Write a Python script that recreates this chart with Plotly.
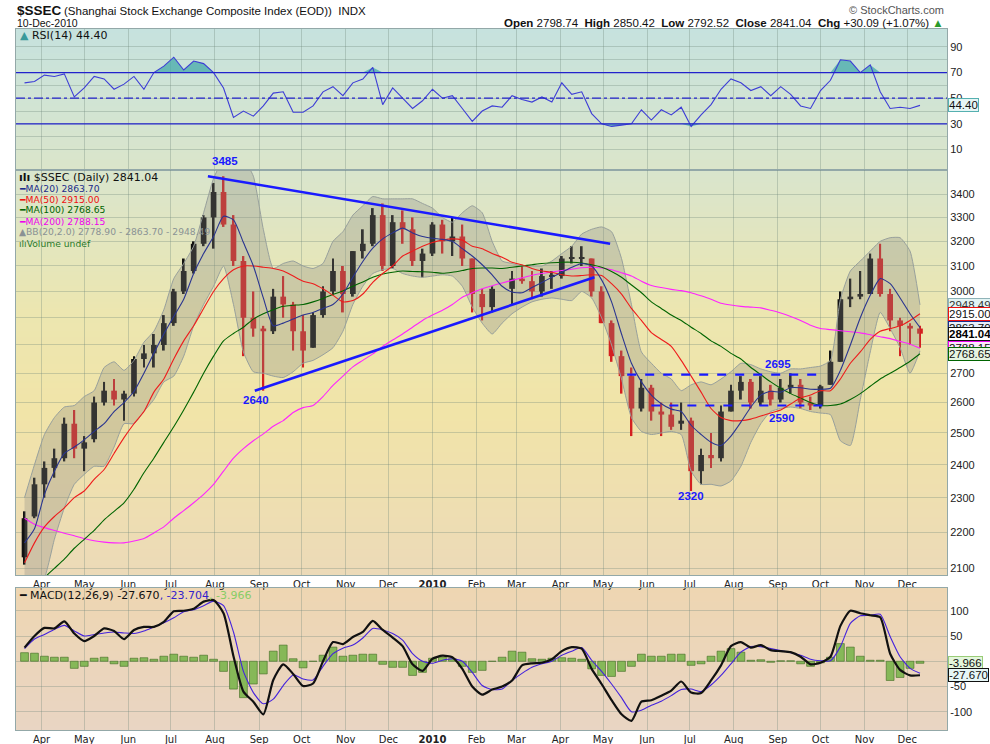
import math, base64, struct, zlib
import pandas as pd
import plotly.graph_objects as go

# ---------------- DATA ----------------
week_start = "2009-03-20"   # weekly bars, Fridays

opens = [2130, 2245, 2340, 2390, 2420, 2530, 2450, 2480, 2600, 2640,
         2610, 2630, 2750, 2770, 2800, 2880, 3000, 3080, 3190, 3300,
         3410, 3270, 3120, 2900, 2860, 2850, 2980, 2950, 2850, 2790,
         2910, 3000, 3080, 2990, 3160, 3190, 3310, 3100, 3280, 3250,
         3120, 3150, 3270, 3200, 3220, 3130, 2990, 2940, None, 3010,
         3050, 3040, 3000, 3060, 3060, 3130, 3130, 3130, 3000, 2880,
         2760, 2690, 2580, 2650, 2570, 2560, 2530, 2540, 2380, 2430,
         2420, 2570, 2640, 2670, 2600, 2640, 2610, 2650, 2660, 2600,
         2590, 2660, 2740, 2970, 2980, 2990, 3130, 2990, 2890, 2870, 2860]
highs = [2260, 2360, 2410, 2450, 2550, 2575, 2490, 2620, 2670, 2680,
         2640, 2760, 2800, 2840, 2910, 3010, 3130, 3200, 3310, 3450,
         3480, 3310, 3140, 3000, 2870, 3010, 3060, 2960, 2910, 2920,
         3020, 3130, 3100, 3160, 3250, 3340, 3360, 3310, 3330, 3300,
         3170, 3280, 3290, 3300, 3270, 3130, 3010, 3020, None, 3080,
         3100, 3080, 3090, 3080, 3140, 3180, 3180, 3130, 3020, 2890,
         2780, 2720, 2680, 2660, 2600, 2600, 2600, 2550, 2450, 2500,
         2590, 2660, 2690, 2680, 2690, 2660, 2680, 2700, 2680, 2620,
         2660, 2780, 3000, 3050, 3080, 3150, 3190, 3010, 2900, 2880, 2870]
lows = [2110, 2240, 2300, 2360, 2410, 2420, 2380, 2470, 2590, 2590,
        2540, 2620, 2720, 2720, 2780, 2870, 2990, 3070, 3180, 3170,
        3260, 3100, 2760, 2830, 2640, 2840, 2900, 2780, 2720, 2790,
        2900, 2990, 2920, 2980, 3130, 3180, 3080, 3090, 3190, 3100,
        3055, 3140, 3150, 3140, 3100, 2920, 2890, 2920, None, 2950,
        3030, 2970, 2980, 3010, 3050, 3110, 3100, 2980, 2880, 2740,
        2630, 2490, 2570, 2540, 2490, 2510, 2510, 2320, 2340, 2390,
        2410, 2570, 2610, 2580, 2590, 2590, 2600, 2630, 2580, 2575,
        2580, 2660, 2740, 2940, 2970, 2990, 2980, 2850, 2760, 2800, 2790]
closes = [2240, 2340, 2390, 2420, 2530, 2450, 2470, 2600, 2640, 2610,
          2630, 2750, 2770, 2800, 2880, 3000, 3080, 3190, 3300, 3410,
          3270, 3120, 2900, 2860, 2850, 2980, 2950, 2850, 2780, 2910,
          3000, 3080, 2990, 3160, 3190, 3310, 3100, 3280, 3250, 3120,
          3150, 3270, 3200, 3220, 3130, 2990, 2940, 3010, None, 3050,
          3040, 3000, 3060, 3060, 3130, 3130, 3130, 3000, 2880, 2760,
          2690, 2580, 2650, 2570, 2560, 2520, 2540, 2380, 2430, 2420,
          2570, 2640, 2670, 2600, 2640, 2610, 2650, 2660, 2600, 2590,
          2655, 2740, 2970, 2980, 2990, 3130, 2990, 2890, 2870, 2860, 2841.04]

ma20 = [2170, 2210, 2310, 2380, 2435, 2455, 2478, 2505, 2530, 2570,
        2600, 2637, 2700, 2770, 2840, 2905, 2970, 3070, 3150, 3220,
        3305, 3290, 3195, 3100, 2975, 2870, 2880, 2895, 2910, 2920,
        2935, 2950, 2990, 3055, 3118, 3172, 3210, 3235, 3255, 3235,
        3220, 3213, 3208, 3200, 3170, 3140, 3105, 3065, 3020, 2998,
        2995, 3015, 3035, 3055, 3075, 3095, 3110, 3100, 3045, 2960,
        2840, 2735, 2670, 2625, 2596, 2578, 2570, 2525, 2495, 2470,
        2460, 2490, 2535, 2585, 2625, 2638, 2635, 2650, 2650, 2645,
        2645, 2648, 2710, 2800, 2900, 2985, 3050, 3030, 2975, 2915, 2863.70]
ma50 = [2115, 2170, 2215, 2245, 2270, 2300, 2320, 2355, 2385, 2435,
        2485, 2530, 2570, 2635, 2680, 2750, 2815, 2870, 2935, 3000,
        3050, 3085, 3100, 3100, 3095, 3090, 3080, 3060, 3040, 3030,
        3010, 2985, 2960, 2965, 2990, 3035, 3070, 3100, 3140, 3160,
        3180, 3195, 3205, 3210, 3205, 3180, 3170, 3150, 3135, 3115,
        3105, 3090, 3080, 3075, 3065, 3060, 3062, 3065, 3062, 3030,
        2990, 2935, 2890, 2845, 2820, 2795, 2745, 2690, 2635, 2580,
        2550, 2540, 2540, 2545, 2555, 2565, 2575, 2595, 2615, 2625,
        2640, 2640, 2680, 2735, 2775, 2820, 2850, 2860, 2870, 2890, 2915.00]
ma100 = [2030, 2050, 2075, 2100, 2125, 2155, 2180, 2205, 2235, 2260,
         2285, 2325, 2375, 2420, 2470, 2520, 2575, 2635, 2700, 2760,
         2815, 2842, 2865, 2895, 2915, 2930, 2943, 2947, 2950, 2960,
         2973, 2988, 3002, 3020, 3037, 3055, 3068, 3075, 3080, 3078,
         3077, 3075, 3071, 3075, 3082, 3090, 3092, 3092, 3090, 3095,
         3100, 3105, 3110, 3113, 3115, 3115, 3112, 3105, 3095, 3078,
         3055, 3025, 2995, 2960, 2935, 2910, 2890, 2865, 2842, 2815,
         2795, 2770, 2750, 2720, 2695, 2670, 2648, 2630, 2615, 2600,
         2590, 2590, 2595, 2610, 2630, 2655, 2680, 2700, 2720, 2742, 2768.65]
ma200 = [2240, 2223, 2213, 2205, 2197, 2190, 2182, 2176, 2172, 2170,
         2170, 2175, 2182, 2198, 2215, 2240, 2262, 2285, 2310, 2340,
         2380, 2420, 2450, 2475, 2497, 2522, 2540, 2567, 2583, 2590,
         2620, 2658, 2690, 2722, 2745, 2768, 2795, 2818, 2840, 2865,
         2890, 2910, 2928, 2950, 2978, 2995, 3010, 3022, 3033, 3043,
         3053, 3063, 3070, 3076, 3082, 3087, 3093, 3095, 3092, 3085,
         3073, 3060, 3040, 3023, 3015, 3008, 3003, 2995, 2983, 2970,
         2955, 2948, 2943, 2940, 2937, 2928, 2918, 2905, 2890, 2872,
         2860, 2856, 2852, 2848, 2844, 2837, 2830, 2823, 2813, 2803, 2788.15]
bb_upper = [2300, 2400, 2495, 2550, 2585, 2590, 2620, 2640, 2720, 2740,
            2710, 2745, 2810, 2850, 2930, 3050, 3110, 3180, 3320, 3470,
            3560, 3600, 3560, 3480, 3250, 3090, 3110, 3120, 3100, 3090,
            3110, 3200, 3240, 3310, 3350, 3390, 3380, 3380, 3380, 3380,
            3360, 3340, 3300, 3280, 3320, 3350, 3320, 3200, 3120, 3110,
            3100, 3100, 3100, 3120, 3150, 3180, 3230, 3250, 3260, 3240,
            3130, 2950, 2775, 2735, 2700, 2680, 2640, 2660, 2670, 2660,
            2680, 2705, 2735, 2730, 2715, 2705, 2700, 2715, 2715, 2720,
            2725, 2745, 2970, 3080, 3120, 3160, 3200, 3215, 3215, 3160, 2948.49]
bb_lower = [2030, 2050, 2075, 2180, 2270, 2340, 2370, 2395, 2395, 2455,
            2530, 2530, 2570, 2610, 2670, 2690, 2760, 2870, 2950, 3020,
            3100, 2950, 2775, 2705, 2700, 2690, 2685, 2705, 2735, 2745,
            2765, 2790, 2850, 2950, 3020, 3070, 3085, 3090, 3070, 3060,
            3055, 3060, 3065, 3060, 3020, 2940, 2880, 2840, 2880, 2915,
            2940, 2960, 2970, 2975, 2970, 2965, 3000, 2975, 2900, 2800,
            2680, 2550, 2505, 2495, 2500, 2505, 2495, 2380, 2340, 2340,
            2335, 2350, 2395, 2470, 2530, 2570, 2580, 2585, 2580, 2570,
            2565, 2560, 2475, 2460, 2610, 2775, 2920, 2860, 2790, 2700, 2778.90]

rsi = [62, 63, 68, 67, 69, 51, 58, 67, 65, 57,
       61, 67, 57, 70, 75, 82, 72, 79, 77, 70,
       58, 35, 40, 36, 44, 54, 55, 39, 39, 44,
       55, 59, 52, 62, 65, 74, 45, 58, 50, 42,
       48, 57, 50, 52, 42, 32, 40, 44, 43, 52,
       49, 47, 51, 47, 62, 53, 55, 38, 30, 28,
       29, 30, 41, 33, 41, 37, 43, 28, 37, 45,
       57, 65, 62, 56, 59, 52, 59, 53, 44, 42,
       56, 64, 80, 79, 70, 76, 55, 42, 43, 42, 44.40]

macd = [27, 50, 66, 65, 79, 55, 40, 50, 65, 60,
        44, 62, 68, 68, 78, 99, 100, 104, 118, 121,
        95, 10, -60, -80, -105, -37, -6, -25, -49, -44,
        0, 38, 34, 48, 58, 80, 62, 47, 30, -6,
        -19, 5, 11, 8, -15, -50, -66, -56, -50, -38,
        -8, -4, -3, 4, 20, 28, 25, -15, -45, -77,
        -105, -118, -80, -77, -68, -58, -40, -62, -63, -38,
        -8, 30, 38, 27, 32, 22, 20, 18, 9, -6,
        -3, 9, 70, 100, 95, 91, 87, 15, -17, -28, -27.670]
signal = [25, 44, 53, 63, 71, 60, 50, 53, 56, 58,
          56, 55, 60, 68, 76, 86, 98, 102, 110, 119,
          110, 58, -20, -62, -84, -75, -48, -27, -35, -37,
          -10, 15, 26, 32, 46, 65, 62, 55, 42, 15,
          0, -4, 2, 5, 0, -22, -48, -56, -55, -38,
          -24, -12, -5, 0, 12, 20, 27, 2, -20, -45,
          -72, -100, -97, -87, -79, -68, -56, -55, -60, -47,
          -28, -5, 18, 29, 29, 25, 21, 17, 12, 4,
          1, 1, 29, 75, 90, 91, 93, 49, 9, -14, -23.704]
hist = [17, 16, 10, 8, 8, -14, -10, 6, 8, -5,
        -10, 6, 7, 4, 10, 14, 10, 8, 12, 4,
        -20, -55, -72, -45, -25, 20, 32, 5, -13, 0,
        12, 28, 10, 12, 14, 14, -6, -12, -12, -28,
        -22, 6, 8, 5, -10, -22, -18, 0, 8, 20,
        18, 5, 4, 6, 7, 6, 4, -15, -28, -30,
        -20, -10, 14, 10, 10, 14, 14, -8, -5, 10,
        20, 25, 18, 2, 3, -2, 1, 1, -5, -10,
        -3, 8, 35, 28, 10, 2, 2, -38, -32, -14, -3.966]

# trend / support lines
trend_top_x, trend_top_y = ["2009-07-27", "2010-05-06"], [3480, 3190]
trend_bot_x, trend_bot_y = ["2009-08-29", "2010-04-25"], [2640, 3055]
res_x, res_y = ["2010-05-18", "2010-10-04"], [2695, 2695]
sup_x, sup_y = ["2010-06-04", "2010-10-08"], [2590, 2590]
point_labels = [("3485", "2009-08-08", 3485, "bottom", 6),
                ("2640", "2009-08-30", 2640, "top", -1),
                ("2320", "2010-07-02", 2330, "top", 0),
                ("2695", "2010-09-01", 2695, "bottom", 3),
                ("2590", "2010-09-04", 2590, "top", -4)]

month_ticks = ["2009-04-01", "2009-05-01", "2009-06-01", "2009-07-01", "2009-08-01",
               "2009-09-01", "2009-10-01", "2009-11-01", "2009-12-01", "2010-01-01",
               "2010-02-01", "2010-03-01", "2010-04-01", "2010-05-01", "2010-06-01",
               "2010-07-01", "2010-08-01", "2010-09-01", "2010-10-01", "2010-11-01",
               "2010-12-01"]
month_text = ["Apr", "May", "Jun", "Jul", "Aug", "Sep", "Oct", "Nov", "Dec", "<b>2010</b>",
              "Feb", "Mar", "Apr", "May", "Jun", "Jul", "Aug", "Sep", "Oct", "Nov", "Dec"]
price_ticks = [2100, 2200, 2300, 2400, 2500, 2600, 2700, 2800, 2900, 3000, 3100, 3200, 3300, 3400]
rsi_ticks = [10, 20, 30, 40, 50, 60, 70, 80, 90]
rsi_text = ["10", "", "30", "", "50", "", "70", "", "90"]
rsi_levels = (70, 50, 30)
macd_ticks = [-100, -50, 0, 50, 100]

# ---------------- LAYOUT GEOMETRY ----------------
W, H = 990, 744
XD = [16 / W, 947 / W]
RSI_D = [1 - 170 / H, 1 - 29 / H]
PR_D = [1 - 575 / H, 1 - 170 / H]
MC_D = [1 - 730 / H, 1 - 588 / H]
X_RANGE = ["2009-03-14", "2010-12-29"]
DAY = 86400000

weeks = pd.date_range(week_start, periods=len(closes), freq="W-FRI")


def grad_uri(stops, h=256):
    def rgb(hx):
        hx = hx.lstrip("#")
        return [int(hx[i:i + 2], 16) for i in (0, 2, 4)]
    st = [(f, rgb(c)) for f, c in stops]
    raw = b""
    for i in range(h):
        t = i / (h - 1)
        col = st[-1][1]
        for j in range(len(st) - 1):
            f0, c0 = st[j]
            f1, c1 = st[j + 1]
            if f0 <= t <= f1:
                u = (t - f0) / (f1 - f0) if f1 > f0 else 0
                col = [round(c0[k] + (c1[k] - c0[k]) * u) for k in range(3)]
                break
        raw += b"\x00" + bytes(col)

    def chunk(tag, data):
        return struct.pack(">I", len(data)) + tag + data + struct.pack(">I", zlib.crc32(tag + data) & 0xffffffff)
    png = (b"\x89PNG\r\n\x1a\n" + chunk(b"IHDR", struct.pack(">IIBBBBB", 1, h, 8, 2, 0, 0, 0))
           + chunk(b"IDAT", zlib.compress(raw)) + chunk(b"IEND", b""))
    return "data:image/png;base64," + base64.b64encode(png).decode()


fig = go.Figure()

# ---------------- PRICE PANEL ----------------
fig.add_trace(go.Scatter(x=weeks, y=bb_upper, xaxis="x2", yaxis="y2", mode="lines",
                         line=dict(color="#98a09c", width=1, shape="spline", smoothing=0.5),
                         hoverinfo="skip"))
fig.add_trace(go.Scatter(x=weeks, y=bb_lower, xaxis="x2", yaxis="y2", mode="lines",
                         line=dict(color="#98a09c", width=1, shape="spline", smoothing=0.5),
                         fill="tonexty", fillcolor="rgba(135,135,130,0.30)", hoverinfo="skip"))

xs, wb, wl, bb_, bl, cols = [], [], [], [], [], []
prev = None
for d, o, h, l, c in zip(weeks, opens, highs, lows, closes):
    if c is None:
        continue
    up = prev is None or c >= prev
    prev = c
    xs.append(d)
    wb.append(l)
    wl.append(h - l)
    bb_.append(min(o, c))
    bl.append(max(abs(c - o), 5))
    cols.append("#111111" if up else "#d42020")
fig.add_trace(go.Bar(x=xs, y=wl, base=wb, width=1.3 * DAY, xaxis="x2", yaxis="y2",
                     marker=dict(color=cols, line=dict(width=0)), hoverinfo="skip"))
fig.add_trace(go.Bar(x=xs, y=bl, base=bb_, width=4.0 * DAY, xaxis="x2", yaxis="y2",
                     marker=dict(color=cols, line=dict(width=0)), hoverinfo="skip"))

for ser, colr in [(ma200, "#ff22ff"), (ma100, "#006400"), (ma50, "#ee1c1c"), (ma20, "#2a3590")]:
    fig.add_trace(go.Scatter(x=weeks, y=ser, xaxis="x2", yaxis="y2", mode="lines",
                             line=dict(color=colr, width=1.1, shape="spline", smoothing=0.6),
                             hoverinfo="skip"))

for tx, ty, dash, wdt in [(trend_top_x, trend_top_y, "solid", 2.6), (trend_bot_x, trend_bot_y, "solid", 2.6),
                          (res_x, res_y, "dash", 2.2), (sup_x, sup_y, "dash", 2.2)]:
    fig.add_trace(go.Scatter(x=tx, y=ty, xaxis="x2", yaxis="y2", mode="lines",
                             line=dict(color="#1a1aff", width=wdt, dash=dash), hoverinfo="skip"))

# ---------------- RSI PANEL ----------------
rsi_hi = [max(v, rsi_levels[0]) for v in rsi]
rsi_lo = [min(v, rsi_levels[2]) for v in rsi]
fig.add_trace(go.Scatter(x=weeks, y=[rsi_levels[0]] * len(rsi), xaxis="x", yaxis="y", mode="lines",
                         line=dict(width=0), hoverinfo="skip"))
fig.add_trace(go.Scatter(x=weeks, y=rsi_hi, xaxis="x", yaxis="y", mode="lines", line=dict(width=0),
                         fill="tonexty", fillcolor="rgba(70,170,170,0.75)", hoverinfo="skip"))
fig.add_trace(go.Scatter(x=weeks, y=[rsi_levels[2]] * len(rsi), xaxis="x", yaxis="y", mode="lines",
                         line=dict(width=0), hoverinfo="skip"))
fig.add_trace(go.Scatter(x=weeks, y=rsi_lo, xaxis="x", yaxis="y", mode="lines", line=dict(width=0),
                         fill="tonexty", fillcolor="rgba(70,170,170,0.75)", hoverinfo="skip"))
fig.add_trace(go.Scatter(x=weeks, y=rsi, xaxis="x", yaxis="y", mode="lines",
                         line=dict(color="#3d3dd6", width=1.1), hoverinfo="skip"))

# ---------------- MACD PANEL ----------------
fig.add_trace(go.Bar(x=weeks, y=hist, width=5.5 * DAY, xaxis="x3", yaxis="y3",
                     marker=dict(color="#86b858", line=dict(color="#3f6a22", width=0.6)), hoverinfo="skip"))
fig.add_trace(go.Scatter(x=weeks, y=signal, xaxis="x3", yaxis="y3", mode="lines",
                         line=dict(color="#4422dd", width=1.1, shape="spline", smoothing=0.6), hoverinfo="skip"))
fig.add_trace(go.Scatter(x=weeks, y=macd, xaxis="x3", yaxis="y3", mode="lines",
                         line=dict(color="#111111", width=2.2, shape="spline", smoothing=0.6), hoverinfo="skip"))

# ---------------- AXES ----------------
GRID = "rgba(110,135,120,0.32)"
BORDER = "#93a8a8"
TF = dict(family="Liberation Sans, Arial", size=11, color="#222")
XF = dict(family="DejaVu Sans", size=10, color="#222")
xcommon = dict(type="date", range=X_RANGE, domain=XD, tickvals=month_ticks, ticktext=month_text,
               showgrid=True, gridcolor=GRID, gridwidth=1, zeroline=False, showline=True, mirror=True,
               linecolor=BORDER, linewidth=1, ticks="", ticklen=0, tickfont=XF, automargin=False)
ycommon = dict(side="right", showgrid=True, gridcolor=GRID, zeroline=False, showline=True, mirror=True,
               linecolor=BORDER, linewidth=1, ticks="", ticklen=0, tickfont=TF, automargin=False)

fig.update_layout(
    width=W, height=H, margin=dict(l=0, r=0, t=0, b=0),
    paper_bgcolor="white", plot_bgcolor="rgba(0,0,0,0)", showlegend=False, barmode="overlay",
    xaxis=dict(xcommon, anchor="y", showticklabels=False),
    yaxis=dict(ycommon, domain=RSI_D, anchor="x", range=[-6, 104], tickvals=rsi_ticks, ticktext=rsi_text),
    xaxis2=dict(xcommon, anchor="y2"),
    yaxis2=dict(ycommon, domain=PR_D, anchor="x2", type="log",
                range=[math.log10(2082), math.log10(3508)], tickvals=price_ticks,
                ticktext=[str(v) for v in price_ticks]),
    xaxis3=dict(xcommon, anchor="y3"),
    yaxis3=dict(ycommon, domain=MC_D, anchor="x3", range=[-136, 145], tickvals=macd_ticks,
                ticktext=[str(v) for v in macd_ticks]),
)

# backgrounds (vertical gradients)
fig.update_layout(images=[
    dict(source=grad_uri([(0, "#c6e2de"), (1, "#dbe5ca")]), xref="paper", yref="paper",
         x=XD[0], y=RSI_D[1], sizex=XD[1] - XD[0], sizey=RSI_D[1] - RSI_D[0],
         sizing="stretch", xanchor="left", yanchor="top", layer="below"),
    dict(source=grad_uri([(0, "#d9e5cd"), (0.35, "#ece6b0"), (0.6, "#f1e4a8"), (1, "#ecdab8")]),
         xref="paper", yref="paper", x=XD[0], y=PR_D[1], sizex=XD[1] - XD[0], sizey=PR_D[1] - PR_D[0],
         sizing="stretch", xanchor="left", yanchor="top", layer="below"),
    dict(source=grad_uri([(0, "#eed6b2"), (1, "#e9d5c3")]), xref="paper", yref="paper",
         x=XD[0], y=MC_D[1], sizex=XD[1] - XD[0], sizey=MC_D[1] - MC_D[0],
         sizing="stretch", xanchor="left", yanchor="top", layer="below"),
])

# RSI reference lines
shapes = []
for lv, dsh in zip(rsi_levels, ["solid", "dashdot", "solid"]):
    shapes.append(dict(type="line", xref="x domain", yref="y", x0=0, x1=1, y0=lv, y1=lv,
                       line=dict(color="#2222cc", width=1.2, dash=dsh), layer="above"))
fig.update_layout(shapes=shapes)

# ---------------- TEXT ----------------
ann = []


def txt(x, y, s, size=11, color="#111", family="DejaVu Sans", xanchor="left", yanchor="middle", **kw):
    ann.append(dict(x=x / W, y=1 - y / H, xref="paper", yref="paper", text=s, showarrow=False,
                    xanchor=xanchor, yanchor=yanchor, font=dict(size=size, color=color, family=family), **kw))


txt(15, 11, "<b>$SSEC</b>", size=13.5, family="Liberation Sans, Arial")
txt(62, 11, "(Shanghai Stock Exchange Composite Index (EOD))  INDX", size=11.5, family="Liberation Sans, Arial")
txt(15, 23, "10-Dec-2010", size=10.5, family="Liberation Sans, Arial")
txt(946, 10, "© StockCharts.com", size=11, color="#555", family="Liberation Sans, Arial", xanchor="right")
txt(946, 23, "<b>Open</b> 2798.74  <b>High</b> 2850.42  <b>Low</b> 2792.52  <b>Close</b> 2841.04  "
    "<b>Chg</b> +30.09 (+1.07%) <span style='color:#2a9a2a'>▲</span>",
    size=11.5, family="Liberation Sans, Arial", xanchor="right")

txt(18, 36, "<span style='color:#3a9a9a'>▲</span> RSI(14) 44.40", size=11)

txt(17, 177, "<b>ılı</b> $SSEC (Daily) 2841.04", size=11)
legend_rows = [("MA(20) 2863.70", "#1a2a8a"), ("MA(50) 2915.00", "#ee1111"),
               ("MA(100) 2768.65", "#006400"), ("MA(200) 2788.15", "#ee00ee"),
               ("BB(20,2.0) 2778.90 - 2863.70 - 2948.49", "#8a9294"), ("Volume undef", "#2a7a2a")]
for i, (s, c) in enumerate(legend_rows):
    icon = "━" if i < 4 else ("▲" if i == 4 else "ılı")
    txt(17, 188 + 11 * i, f"{icon}{s}", size=9.2, color=c)

txt(17, 595, "━ MACD(12,26,9) -27.670<span style='color:#3322cc'>, -23.704</span>"
    "<span style='color:#88cc66'>, -3.966</span>", size=11)

# point labels on the price panel
for s, dx, v, ya, ysh in point_labels:
    ann.append(dict(x=dx, y=math.log10(v), xref="x2", yref="y2", text=f"<b>{s}</b>", showarrow=False,
                    xanchor="center", yanchor=ya, yshift=ysh,
                    font=dict(size=11.5, color="#1a1aff", family="Liberation Sans, Arial")))

# value tags on the right
TAGX = 948 / W
TAGF = dict(size=11.5, family="Liberation Sans, Arial")
price_tags = [(2948.49, "#e2f4f4", "#8fb3b8", "#333", False),
              (2915.00, "#ffffff", "#ee1111", "#111", False),
              (2863.70, "#e8eefa", "#1a2a8a", "#111", False),
              (2841.04, "#ffffff", "#111111", "#000", True),
              (2788.15, "#fbe8fb", "#ee00ee", "#111", False),
              (2768.65, "#e6f4e2", "#006400", "#111", False)]
for v, bg, bd, fc, bold in price_tags:
    s = f"{v:.2f}"
    ann.append(dict(x=TAGX, y=math.log10(v), xref="paper", yref="y2", text=f"<b>{s}</b>" if bold else s,
                    showarrow=False, xanchor="left", yanchor="middle", bgcolor=bg, bordercolor=bd,
                    borderwidth=1, borderpad=0, font=dict(TAGF, color=fc)))
ann.append(dict(x=TAGX, y=rsi[-1], xref="paper", yref="y", text=f"{rsi[-1]:.2f}", showarrow=False,
                xanchor="left", yanchor="middle", bgcolor="#e6f6f6", bordercolor="#55b0b0", borderwidth=1,
                borderpad=0, font=dict(TAGF, color="#111")))
ann.append(dict(x=TAGX, y=hist[-1], xref="paper", yref="y3", text=f"{hist[-1]:.3f}", showarrow=False,
                xanchor="left", yanchor="middle", bgcolor="#e4f6dc", bordercolor="#99cc77", borderwidth=1,
                borderpad=0, font=dict(TAGF, color="#111")))
ann.append(dict(x=TAGX, y=macd[-1], xref="paper", yref="y3", text=f"{macd[-1]:.3f}", showarrow=False,
                xanchor="left", yanchor="middle", bgcolor="#e6f6f6", bordercolor="#111111", borderwidth=1,
                borderpad=0, font=dict(TAGF, color="#111")))

fig.update_layout(annotations=ann)
fig.write_html("out.html", config={"displayModeBar": False},
               post_script="document.body.style.margin='0px';")
